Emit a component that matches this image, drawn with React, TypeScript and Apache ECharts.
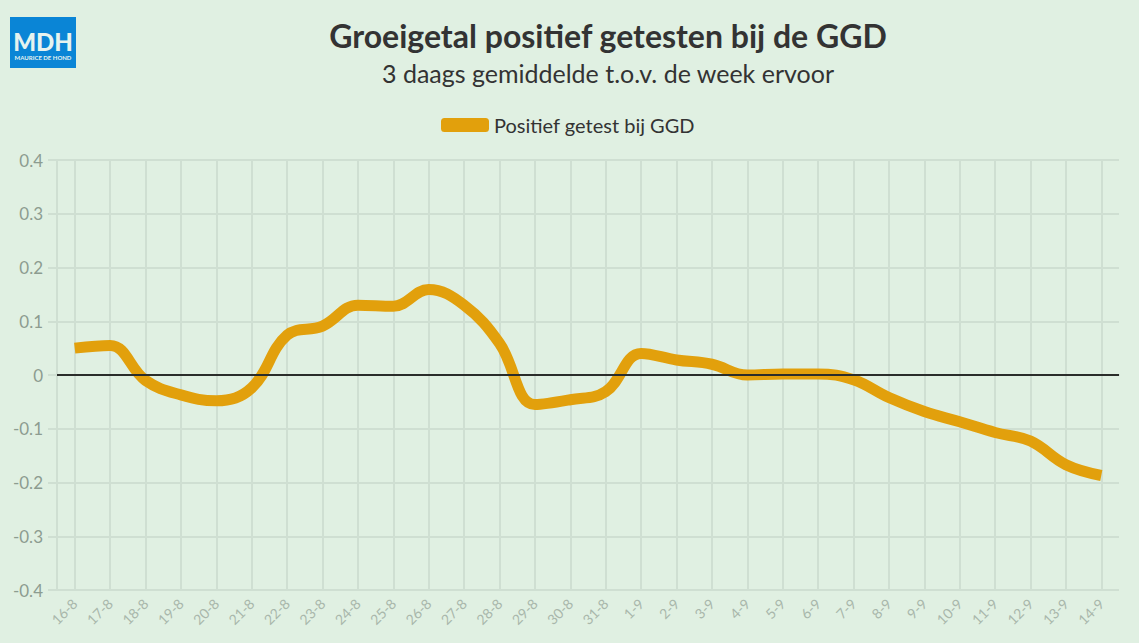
import React, { useEffect, useRef } from "react";
import * as echarts from "echarts";

const categories = [
  "16-8", "17-8", "18-8", "19-8", "20-8", "21-8", "22-8", "23-8", "24-8", "25-8",
  "26-8", "27-8", "28-8", "29-8", "30-8", "31-8", "1-9", "2-9", "3-9", "4-9",
  "5-9", "6-9", "7-9", "8-9", "9-9", "10-9", "11-9", "12-9", "13-9", "14-9",
];
const values = [
  0.05, 0.055, -0.01, -0.037, -0.048, -0.024, 0.074, 0.091, 0.13, 0.128,
  0.159, 0.13, 0.059, -0.055, -0.046, -0.031, 0.04, 0.028, 0.02, 0.0,
  0.002, 0.002, -0.009, -0.042, -0.068, -0.087, -0.107, -0.123, -0.167, -0.187,
];
const seriesName = "Positief getest bij GGD";
const titleText = "Groeigetal positief getesten bij de GGD";
const subtitleText = "3 daags gemiddelde t.o.v. de week ervoor";

export default function App() {
  const ref = useRef<HTMLDivElement>(null);
  useEffect(() => {
    document.body.style.margin = "0";
    const chart = echarts.init(ref.current!, null, { renderer: "svg" });
    const gridColor = "#cfdfd2";
    chart.setOption({
      animation: false,
      backgroundColor: "#e0f0e2",
      textStyle: { fontFamily: "Lato" },
      graphic: [
        { type: "rect", shape: { x: 10, y: 17, width: 66, height: 51 }, style: { fill: "#0a85d6" } },
        { type: "text", x: 43, y: 41, style: { text: "MDH", fill: "#e6f3ef", font: "900 24px Lato", textAlign: "center", textVerticalAlign: "middle" } },
        { type: "text", x: 43, y: 57, style: { text: "MAURICE DE HOND", fill: "#e6f3ef", font: "bold 6px Lato", textAlign: "center", textVerticalAlign: "middle" } },
        { type: "text", x: 608, y: 35, style: { text: titleText, fill: "#333333", font: "bold 32px Lato", textAlign: "center", textVerticalAlign: "middle" } },
        { type: "text", x: 608, y: 73, style: { text: subtitleText, fill: "#333333", font: "25px Lato", textAlign: "center", textVerticalAlign: "middle" } },
      ],
      legend: {
        top: 110,
        left: 436,
        itemWidth: 48,
        itemHeight: 14,
        itemGap: 10,
        data: [{ name: seriesName, icon: "roundRect" }],
        textStyle: { fontSize: 20, color: "#333333", fontFamily: "Lato", padding: [0, 0, 0, 0] },
      },
      grid: { left: 57, right: 20, top: 160, bottom: 53, containLabel: false },
      xAxis: {
        type: "category",
        data: categories,
        boundaryGap: true,
        axisLine: { show: true, lineStyle: { color: gridColor, width: 2 } },
        axisTick: { show: true, alignWithLabel: true, length: 6, lineStyle: { color: gridColor, width: 2 } },
        splitLine: { show: true, alignWithLabel: true, lineStyle: { color: gridColor, width: 2 } },
        axisLabel: { rotate: 45, fontSize: 14, color: "#a9b7ab", margin: 11, interval: 0, fontFamily: "Lato" },
      },
      yAxis: {
        type: "value",
        min: -0.4,
        max: 0.4,
        interval: 0.1,
        axisLine: { show: true, lineStyle: { color: gridColor, width: 2 } },
        axisTick: { show: true, length: 9, lineStyle: { color: gridColor, width: 2 } },
        splitLine: { show: true, lineStyle: { color: gridColor, width: 2 } },
        axisLabel: {
          fontSize: 17,
          color: "#8d9c90",
          margin: 14,
          fontFamily: "Lato",
          formatter: (v: number) => String(Math.round(v * 10) / 10),
        },
      },
      series: [
        {
          name: seriesName,
          type: "line",
          data: values,
          smooth: 0.4,
          showSymbol: false,
          color: "#e2a00c",
          lineStyle: { width: 11, color: "#e2a00c" },
          markLine: {
            silent: true,
            symbol: "none",
            label: { show: false },
            lineStyle: { color: "#2a2d2a", width: 2, type: "solid" },
            data: [{ yAxis: 0 }],
          },
          z: 3,
        },
      ],
    });
    return () => chart.dispose();
  }, []);
  return <div ref={ref} style={{ width: 1139, height: 643, position: "absolute", left: 0, top: 0 }} />;
}
